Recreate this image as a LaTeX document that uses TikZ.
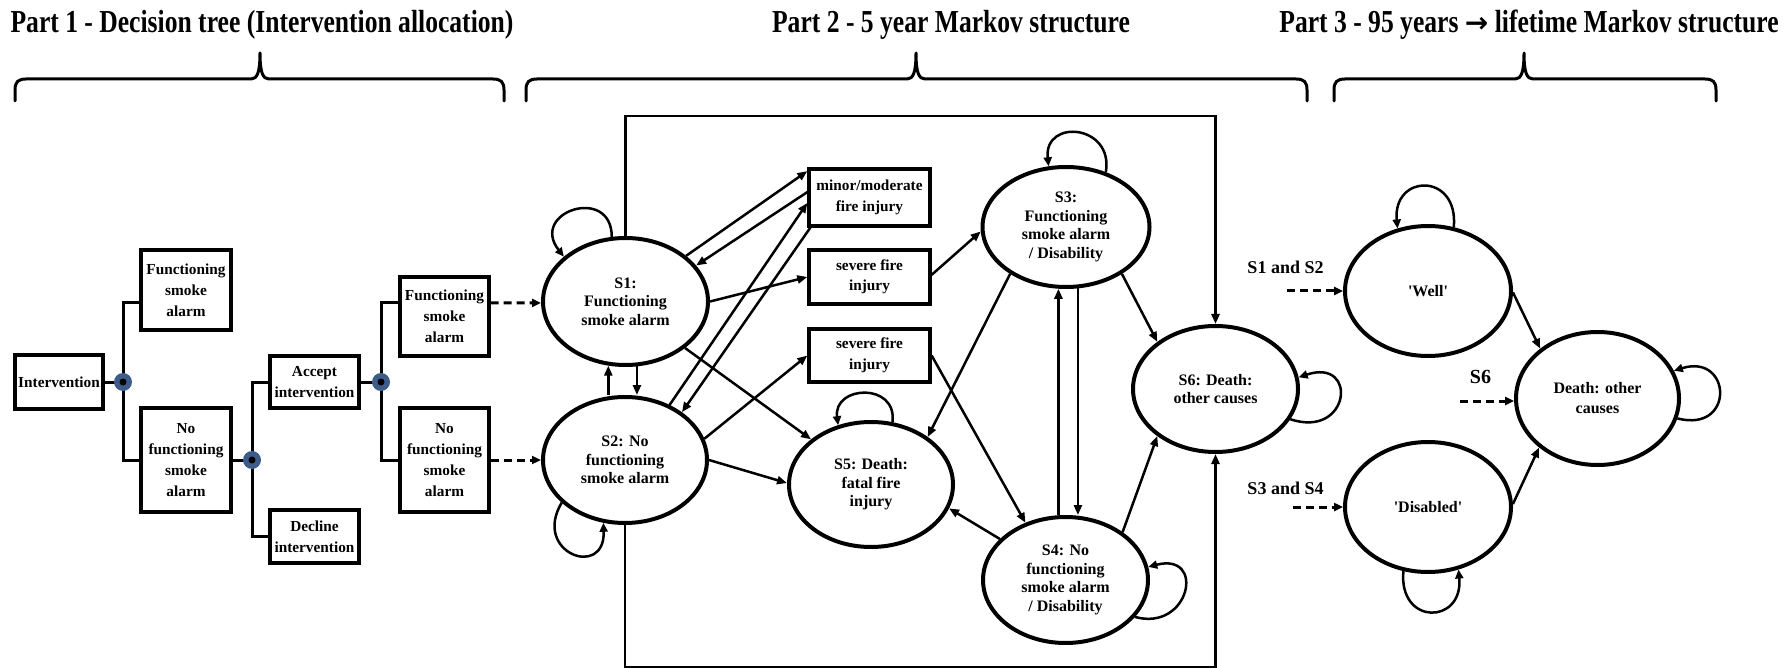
\documentclass[tikz,border=0pt]{standalone}
\usepackage{fontspec}
\setmainfont{Liberation Serif}
\newfontfamily\titlefont{Liberation Serif}[FakeStretch=0.8]
\newfontfamily\arrowfont{DejaVu Sans}
\usetikzlibrary{arrows.meta,shapes.geometric,calc,backgrounds}
\definecolor{dotblue}{RGB}{62,92,138}
\newcommand\drawbrace[3]{%
  \draw[bracket] (#1,101) -- (#1,90) .. controls (#1,82) and (#1+3,79) .. (#1+11,79) -- (#3-9,79) .. controls (#3-3,79) and (#3,73) .. (#3,53) .. controls (#3,73) and (#3+3,79) .. (#3+9,79) -- (#2-11,79) .. controls (#2-3,79) and (#2,82) .. (#2,90) -- (#2,101);}
\tikzset{
  tbox/.style={draw, line width=3.3pt, align=center, inner sep=0pt, font=\bfseries\fontsize{15.3}{21}\selectfont},
  mbox/.style={draw, line width=3.3pt, align=center, inner sep=0pt, minimum width=121pt, font=\bfseries\fontsize{15.3}{20.5}\selectfont},
  state/.style={ellipse, draw, line width=4pt, align=center, inner sep=0pt, font=\bfseries\fontsize{16}{18.5}\selectfont},
  chance/.style={circle, fill=dotblue, minimum size=18pt, inner sep=0pt, path picture={\fill[black] (path picture bounding box.center) circle (3.5pt);}},
  treeline/.style={line width=3pt},
  trans/.style={line width=2.5pt, -{Triangle[length=10pt,width=8pt]}},
  loopar/.style={line width=2.5pt, -{Triangle[length=9pt,width=8pt]}},
  dasharrow/.style={line width=3pt, dash pattern=on 8pt off 5pt, -{Triangle[length=9pt,width=8pt]}},
  title/.style={font=\titlefont\bfseries\fontsize{32}{34}\selectfont, anchor=base, inner sep=0pt},
  lab/.style={font=\bfseries\fontsize{18}{20}\selectfont, inner sep=0pt},
  bracket/.style={line width=3pt, line cap=round, line join=round},
}
\begin{document}
\begin{tikzpicture}[x=1pt,y=-1pt]
\useasboundingbox (0,0) rectangle (1791,668);
% titles
\node[title] (t1) at (262,33) {Part 1 - Decision tree (Intervention allocation)};
\node[title] (t2) at (951,33) {Part 2 - 5 year Markov structure};
\node[title] (t3) at (1529,33) {Part 3 - 95 years {\arrowfont\bfseries\fontsize{28}{30}\selectfont →} lifetime Markov structure};
\drawbrace{15}{504}{260}
\drawbrace{526}{1307}{916}
\drawbrace{1334}{1716}{1524}
% decision tree
\node[tbox, minimum width=88pt, minimum height=54pt] (int) at (59,382) {Intervention};
\node[tbox, minimum width=90pt, minimum height=80pt] (fsa1) at (186,290) {Functioning\\smoke\\alarm};
\node[tbox, minimum width=90pt, minimum height=104pt] (nfsa1) at (186,460) {No\\functioning\\smoke\\alarm};
\node[tbox, minimum width=89pt, minimum height=52pt] (acc) at (314.5,382) {Accept\\intervention};
\node[tbox, minimum width=89pt, minimum height=53pt] (dec) at (314.5,536.5) {Decline\\intervention};
\node[tbox, minimum width=89pt, minimum height=79pt] (fsa2) at (444.5,316.5) {Functioning\\smoke\\alarm};
\node[tbox, minimum width=89pt, minimum height=104pt] (nfsa2) at (444.5,460) {No\\functioning\\smoke\\alarm};
\node[chance] (d1) at (123,382) {};
\node[chance] (d2) at (252,460) {};
\node[chance] (d3) at (381,382) {};
\begin{scope}[on background layer]
\draw[treeline] (int.east) -- (d1.center);
\draw[treeline] (d1.center) |- ($(fsa1.west)+(0,13)$);
\draw[treeline] (d1.center) |- (nfsa1.west);
\draw[treeline] (nfsa1.east) -- (d2.center);
\draw[treeline] (d2.center) |- (acc.west);
\draw[treeline] (d2.center) |- (dec.west);
\draw[treeline] (acc.east) -- (d3.center);
\draw[treeline] (d3.center) |- ($(fsa2.west)+(0,-13.5)$);
\draw[treeline] (d3.center) |- (nfsa2.west);
\end{scope}
% Markov part 2
\node[state, minimum width=165pt, minimum height=127pt] (S1) at (625.5,301.5) {S1:\\Functioning\\smoke alarm};
\node[state, minimum width=164pt, minimum height=126pt] (S2) at (625,460) {S2: No\\functioning\\smoke alarm};
\node[state, minimum width=164pt, minimum height=125pt] (S5) at (871,484.5) {S5: Death:\\fatal fire\\injury};
\node[state, minimum width=167pt, minimum height=120pt] (S3) at (1066,227) {S3:\\Functioning\\smoke alarm\\/ Disability};
\node[state, minimum width=165pt, minimum height=126pt] (S4) at (1065.5,580) {S4: No\\functioning\\smoke alarm\\/ Disability};
\node[state, minimum width=165pt, minimum height=126pt] (S6) at (1215.5,389) {S6: Death:\\other causes};
\node[mbox, minimum height=57pt] (minor) at (869.5,197.5) {minor/moderate\\fire injury};
\node[mbox, minimum height=54pt] (sev1) at (869.5,277) {severe fire\\injury};
\node[mbox, minimum height=53pt] (sev2) at (869.5,355.5) {severe fire\\injury};
\draw[dasharrow] ($(fsa2.east)+(0,-13.5)$) -- (S1.181);
\draw[dasharrow] (nfsa2.east) -- (S2.west);
\draw[trans] (S1.37) -- (minor.157);
\draw[trans] (minor.175) -- (S1.27);
\draw[trans] (S2.51) -- (minor.185);
\draw[trans] (minor.207) -- (S2.40);
\draw[trans] (S1.east) -- (sev1.west);
\draw[trans] (S1.-38) -- (S5.143);
\draw[trans] (S2.15) -- (sev2.west);
\draw[trans] (S2.east) -- (S5.179);
\draw[trans] (sev1.2) -- (S3.183);
\draw[trans] (sev2.east) -- (S4.125);
\draw[trans] (S3.-140) -- (S5.40);
\draw[trans] (S4.148) -- (S5.-17);
\draw[trans] (S3.-79) -- (S3.-79 |- S4.north);
\draw[trans] (S4.north -| S3.-97) -- (S3.-97);
\draw[trans] (S3.-40) -- (S6.141);
\draw[trans] (S4.40) -- (S6.-141);
\draw[trans] (S1.-80) -- (S1.-80 |- S2.north);
\draw[trans] (S2.north -| S1.-105) -- (S1.-105);
\draw[trans] (S1.north) -- ++(0,-120) -| (S6.north);
\draw[trans] (S2.south) -- ++(0,142) -| (S6.south);
\draw[loopar] (S1.102) .. controls +(0,-52) and +(-35,-45) .. (S1.144);
\draw[loopar] (S2.-146) .. controls +(-30,50) and +(2,57) .. (S2.-109);
\draw[loopar] (S5.71) .. controls +(5,-40) and +(-5,-40) .. (S5.119);
\draw[loopar] (S3.54) .. controls +(8,-48) and +(-5,-48) .. (S3.106);
\draw[loopar] (S4.-28) .. controls +(55,15) and +(58,-15) .. (S4.9);
\draw[loopar] (S6.-22) .. controls +(60,20) and +(60,-20) .. (S6.8);
% Part 3
\node[state, minimum width=166pt, minimum height=130pt] (Well) at (1428,291) {\textquotesingle Well\textquotesingle};
\node[state, minimum width=166pt, minimum height=130pt] (Dis) at (1428,507) {\textquotesingle Disabled\textquotesingle};
\node[state, minimum width=163pt, minimum height=133pt, font=\bfseries\fontsize{16}{20}\selectfont] (Death) at (1597.5,398.5) {Death: other\\causes};
\node[lab] (l12) at (1285.5,267) {S1 and S2};
\node[lab, font=\bfseries\fontsize{20}{22}\selectfont] (l6) at (1480.5,377) {S6};
\node[lab] (l34) at (1285.5,488) {S3 and S4};
\coordinate (c12) at (1287,291);
\coordinate (c6) at (1460,401);
\coordinate (c34) at (1293,507);
\draw[dasharrow] (c12) -- (Well.west);
\draw[dasharrow] (c6) -- (c6 -| Death.west);
\draw[dasharrow] (c34) -- (Dis.west);
\draw[trans] (Well.-1) -- (Death.139);
\draw[trans] (Dis.2) -- (Death.-140);
\draw[loopar] (Well.68) .. controls +(5,-55) and +(-5,-55) .. (Well.116);
\draw[loopar] (Dis.-111) .. controls +(-5,55) and +(5,55) .. (Dis.-64);
\draw[loopar] (Death.-14) .. controls +(58,15) and +(58,-18) .. (Death.20);
\end{tikzpicture}
\end{document}
